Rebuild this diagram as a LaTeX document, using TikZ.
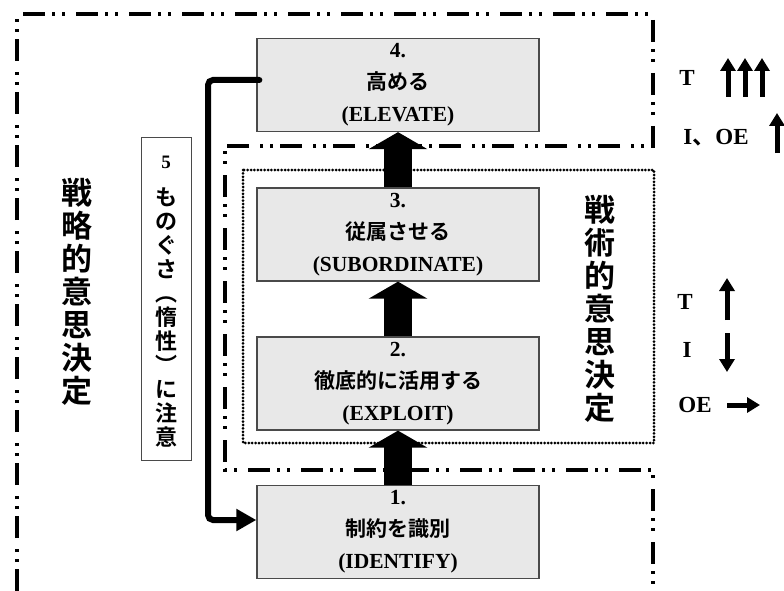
\documentclass[tikz,border=0pt]{standalone}
\usepackage{fontspec}
\setmainfont{Liberation Serif}
\newfontfamily\jp{Noto Sans CJK JP}[BoldFont={Noto Sans CJK JP Bold}]
\usetikzlibrary{arrows.meta,calc}
\definecolor{boxfill}{HTML}{E8E8E8}
\definecolor{boxline}{HTML}{4A4A4A}
\begin{document}
\begin{tikzpicture}[x=1pt,y=-1pt,
  stepbox/.style={draw=boxline, line width=1.3pt, fill=boxfill, minimum width=282pt, minimum height=93pt, inner sep=0pt, align=center, font=\bfseries\fontsize{21.5}{32}\selectfont},
  dashdot/.style={line width=3.5pt, dash pattern=on 22pt off 7pt on 3pt off 7pt on 3pt off 11pt},
  dotline/.style={line width=3pt, line cap=round, dash pattern=on 0pt off 3.4pt},
  bigarrow/.style={line width=28pt, -{Triangle[width=58pt,length=17pt]}},
  conn/.style={line width=6pt, rounded corners=5pt, line cap=round, -{Triangle[width=21pt,length=20pt]}},
  legarrow/.style={line width=5pt, -{Triangle[width=15pt,length=13pt]}},
  legtext/.style={font=\bfseries\fontsize{23}{23}\selectfont, inner sep=0pt},
  bigjp/.style={align=center, inner sep=0pt, font=\jp\bfseries\fontsize{31}{33}\selectfont},
]
\useasboundingbox (0,0) rectangle (784,591);

% strategic region (dash-dot outline)
\draw[dashdot] (17,591) -- (17,14) -- (653,14) -- (653,146) -- (225,146) -- (225,470) -- (653,470) -- (653,591);
% tactical region (dotted)
\draw[dotline] (243,170) rectangle (654,443);

% process boxes
\node[stepbox] (b4) at (398,85) {4.\\{\jp\fontsize{21}{32}\selectfont 高める}\\(ELEVATE)};
\node[stepbox] (b3) at (398,234.5) {3.\\{\jp\fontsize{21}{32}\selectfont 従属させる}\\(SUBORDINATE)};
\node[stepbox] (b2) at (398,383.5) {2.\\{\jp\fontsize{21}{32}\selectfont 徹底的に活用する}\\(EXPLOIT)};
\node[stepbox] (b1) at (398,532) {1.\\{\jp\fontsize{21}{32}\selectfont 制約を識別}\\(IDENTIFY)};

% block arrows
\draw[bigarrow] (b1.north) -- (b2.south);
\draw[bigarrow] (b2.north) -- (b3.south);
\draw[bigarrow] (b3.north) -- (b4.south);

% feedback connector
\coordinate (cx) at (208,300);
\draw[conn] ([xshift=3pt,yshift=5pt]b4.west) -| (cx) |- ([yshift=12pt]b1.west);

% box 5
\node[draw=boxline, line width=1pt, fill=white, minimum width=50pt, minimum height=322pt, inner sep=0pt] (b5) at (166,299) {};
\node[font=\bfseries\fontsize{19}{19}\selectfont, inner sep=0pt] (n5) at (166,162) {5};
\node[align=center, inner sep=0pt, font=\jp\bfseries\fontsize{22}{24}\selectfont] (t5) at (166,317)
  {も\\の\\ぐ\\さ\\︵\\惰\\性\\︶\\に\\注\\意};

% vertical titles
\node[bigjp] (strat) at (77,292) {戦\\略\\的\\意\\思\\決\\定};
\node[bigjp] (tact) at (600,309) {戦\\術\\的\\意\\思\\決\\定};

% legend top
\node[legtext] (lT1) at (687,78) {T};
\coordinate (u1s) at (728,97); \coordinate (u1e) at (728,58);
\coordinate (u2s) at (745,97); \coordinate (u2e) at (745,58);
\coordinate (u3s) at (762,97); \coordinate (u3e) at (762,58);
\draw[legarrow] (u1s) -- (u1e);
\draw[legarrow] (u2s) -- (u2e);
\draw[legarrow] (u3s) -- (u3e);
\node[legtext] (lIOE) at (716,138) {I{\jp\bfseries 、}OE};
\coordinate (u4s) at (777,153); \coordinate (u4e) at (777,113);
\draw[legarrow] (u4s) -- (u4e);

% legend bottom
\node[legtext] (lT2) at (685,302) {T};
\coordinate (v1s) at (727,320); \coordinate (v1e) at (727,278);
\draw[legarrow] (v1s) -- (v1e);
\node[legtext] (lI2) at (687,350) {I};
\coordinate (v2s) at (727,333); \coordinate (v2e) at (727,372);
\draw[legarrow] (v2s) -- (v2e);
\node[legtext] (lOE2) at (695,405) {OE};
\coordinate (v3s) at (727,405); \coordinate (v3e) at (760,405);
\draw[legarrow] (v3s) -- (v3e);
\end{tikzpicture}
\end{document}
